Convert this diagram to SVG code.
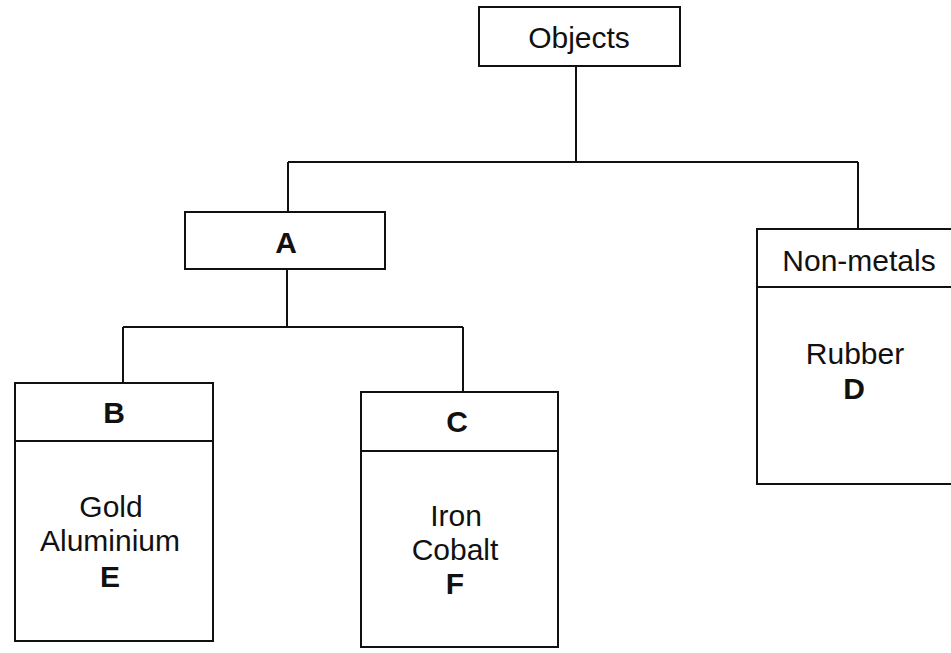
<svg xmlns="http://www.w3.org/2000/svg" width="951" height="653" viewBox="0 0 951 653">
<style>
.box{fill:#fff;stroke:#111;stroke-width:2}
.ln{fill:none;stroke:#111;stroke-width:2}
.t{font-family:"Liberation Sans",Arial,sans-serif;font-size:30px;fill:#111;text-anchor:middle}
.b{font-weight:bold}
</style>
<rect width="951" height="653" fill="#fff"/>
<g id="connectors">
<path class="ln" d="M576 66V162M288 162H858M288 162V212M858 162V229"/>
<path class="ln" d="M287 269V327M123 327H463M123 327V383M463 327V392"/>
</g>
<g id="objects">
<rect class="box" x="479" y="7" width="201" height="59"/>
<text class="t" x="579" y="48">Objects</text>
</g>
<g id="A">
<rect class="box" x="185" y="212" width="200" height="57"/>
<text class="t b" x="286" y="253">A</text>
</g>
<g id="B">
<rect class="box" x="15" y="383" width="198" height="258"/>
<line class="ln" x1="15" y1="441" x2="213" y2="441"/>
<text class="t b" x="114" y="423">B</text>
<text class="t" x="111" y="517">Gold</text>
<text class="t" x="110" y="551">Aluminium</text>
<text class="t b" x="110" y="587">E</text>
</g>
<g id="C">
<rect class="box" x="361" y="392" width="197" height="255"/>
<line class="ln" x1="361" y1="451" x2="558" y2="451"/>
<text class="t b" x="457" y="432">C</text>
<text class="t" x="456" y="526">Iron</text>
<text class="t" x="455" y="560">Cobalt</text>
<text class="t b" x="455" y="594">F</text>
</g>
<g id="nonmetals">
<rect class="box" x="757" y="229" width="200" height="255"/>
<line class="ln" x1="757" y1="287" x2="951" y2="287"/>
<text class="t" x="859" y="271">Non-metals</text>
<text class="t" x="855" y="364">Rubber</text>
<text class="t b" x="854" y="399">D</text>
</g>
</svg>
